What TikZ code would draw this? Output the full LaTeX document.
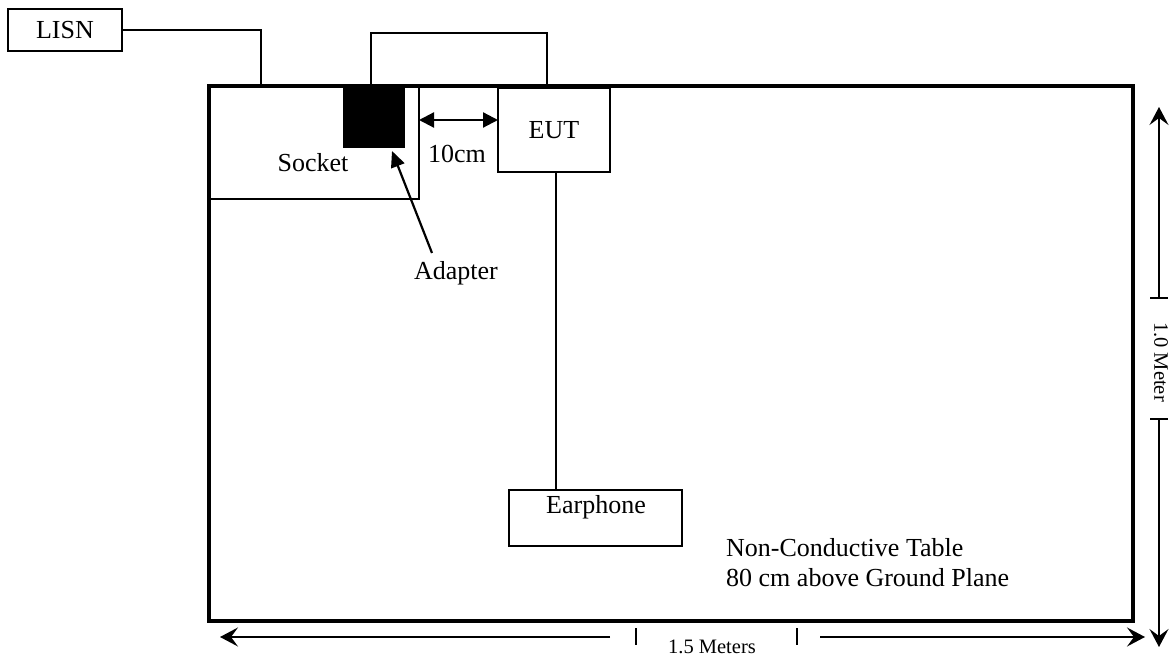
\documentclass[tikz,border=0pt]{standalone}
\usepackage{fontspec}
\setmainfont{Liberation Serif}
\usetikzlibrary{arrows.meta}
\begin{document}
\begin{tikzpicture}[x=1pt,y=-1pt,
  box/.style={draw, line width=2pt, inner sep=0pt, outer sep=0pt},
  lbl/.style={font=\fontsize{26}{30}\selectfont, inner sep=0pt},
  small/.style={font=\fontsize{20.5}{24}\selectfont, inner sep=0pt},
  wire/.style={line width=2pt},
  tip/.style={line width=1.6pt, -{Stealth[length=18pt,width=19pt,inset=7pt]}},
  tick/.style={line width=1.6pt},
  gap/.style={line width=2.2pt, {Triangle[length=15pt,width=15pt]}-{Triangle[length=15pt,width=15pt]}},
  pointer/.style={line width=2.2pt, -{Triangle[length=16pt,width=14pt]}}]
\useasboundingbox (0,0) rectangle (1171,660);
% table
\node[draw, line width=4.5pt, inner sep=0pt, minimum width=924pt, minimum height=535pt] (table) at (671,353.5) {};
% LISN
\node[box, lbl, minimum width=114pt, minimum height=42pt] (lisn) at (65,30) {LISN};
% socket
\node[box, minimum width=210pt, minimum height=113pt] (socket) at (314,142.5) {};
\node[lbl] (socketlbl) at (313,163) {Socket};
% adapter
\node[fill=black, inner sep=0pt, minimum width=62pt, minimum height=62pt] (adapter) at (374,117) {};
% EUT
\node[box, lbl, fill=white, minimum width=112pt, minimum height=84pt] (eut) at (554,130) {EUT};
% earphone
\node[box, minimum width=173pt, minimum height=56pt] (earphone) at (595.5,518) {};
\node[lbl] (earphonelbl) at (596,507) {Earphone};
% labels
\node[lbl] (gaplbl) at (457,154) {10cm};
\node[lbl] (adapterlbl) at (456,273) {Adapter};
\node[lbl, align=left, anchor=west] (tablelbl) at (726,563) {Non-Conductive Table\\80 cm above Ground Plane};
% wires
\coordinate (w1) at (261,86);
\draw[wire] (lisn.east) -| (w1);
\coordinate (w2a) at (371,86);
\coordinate (w2b) at (547,86);
\draw[wire] (w2a) -- (371,33) -| (w2b);
\coordinate (ex) at (556,0);
\draw[wire] (eut.south -| ex) -- (earphone.north -| ex);
% 10cm arrow
\coordinate (ga) at (419,120);
\coordinate (gb) at (498,120);
\draw[gap] (ga) -- (gb);
% adapter pointer
\coordinate (pa) at (432,253);
\coordinate (pb) at (392,151);
\draw[pointer] (pa) -- (pb);
% horizontal dimension
\coordinate (hl1) at (610,637);
\coordinate (hl2) at (220,637);
\coordinate (hr1) at (820,637);
\coordinate (hr2) at (1145,637);
\draw[tip] (hl1) -- (hl2);
\draw[tip] (hr1) -- (hr2);
\coordinate (t1a) at (636,628); \coordinate (t1b) at (636,645);
\coordinate (t2a) at (797,628); \coordinate (t2b) at (797,645);
\draw[tick] (t1a) -- (t1b);
\draw[tick] (t2a) -- (t2b);
\node[small] (hlbl) at (712,647) {1.5 Meters};
% vertical dimension
\coordinate (vu1) at (1159,298);
\coordinate (vu2) at (1159,107);
\coordinate (vd1) at (1159,419);
\coordinate (vd2) at (1159,647);
\draw[tip] (vu1) -- (vu2);
\draw[tip] (vd1) -- (vd2);
\coordinate (t3a) at (1150,298); \coordinate (t3b) at (1168,298);
\coordinate (t4a) at (1150,419); \coordinate (t4b) at (1168,419);
\draw[tick] (t3a) -- (t3b);
\draw[tick] (t4a) -- (t4b);
\node[small, rotate=-90] (vlbl) at (1161,362) {1.0 Meter};
\end{tikzpicture}
\end{document}
